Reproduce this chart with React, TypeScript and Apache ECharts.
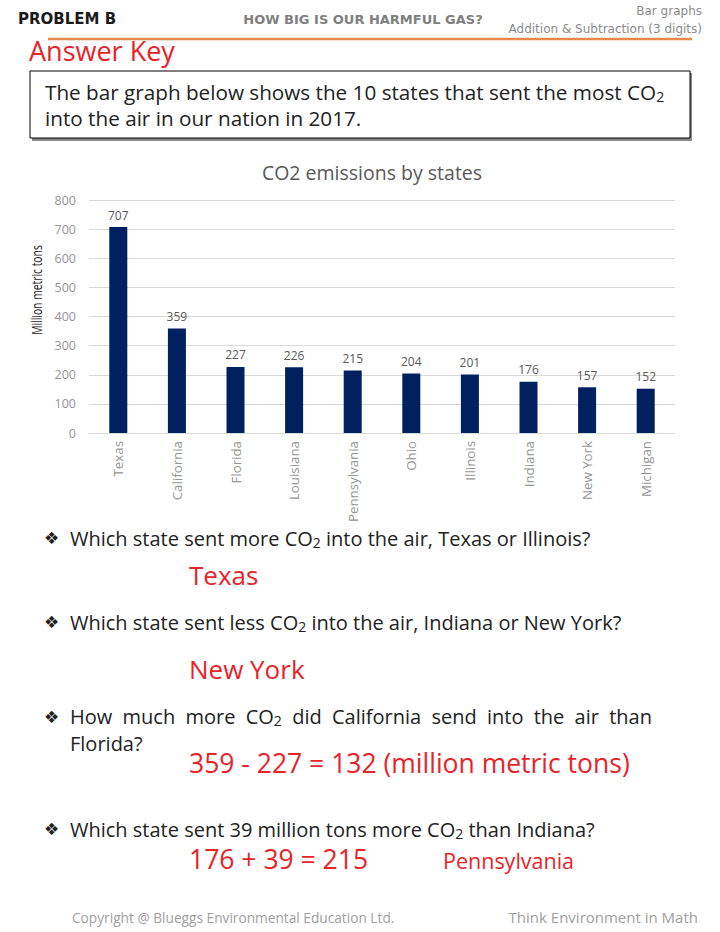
import React, { useEffect, useRef } from "react";
import * as echarts from "echarts";

const states = ["Texas", "California", "Florida", "Louisiana", "Pennsylvania", "Ohio", "Illinois", "Indiana", "New York", "Michigan"];
const emissions = [707, 359, 227, 226, 215, 204, 201, 176, 157, 152];
const yMin = 0;
const yMax = 800;
const yStep = 100;

const FAMILY = "Open Sans";
const FONT = "'Open Sans', Lato, sans-serif";
const RED = "#E8242B";
const DARK = "#222222";

function measure(text: string, size: number, family = FAMILY) {
  const c = document.createElement("canvas").getContext("2d")!;
  c.font = `${size}px '${family}'`;
  return c.measureText(text).width;
}

function txt(x: number, y: number, text: string, size: number, color: string, extra: any = {}) {
  const align = extra.align || "left";
  return {
    type: "text",
    x,
    y,
    rotation: extra.rotation || 0,
    scaleX: extra.scaleX || 1,
    style: {
      text,
      fontSize: size,
      lineHeight: Math.round(size * 1.15),
      fontFamily: extra.fontFamily || FONT,
      fontWeight: extra.fontWeight || "normal",
      fill: color,
      align,
      textAlign: align,
      verticalAlign: "middle",
      textVerticalAlign: "middle",
      ...(extra.rich ? { rich: extra.rich } : {}),
    },
  };
}

function subRich(size: number, color: string) {
  const lh = Math.round(size * 1.15);
  const ss = Math.round(size * 0.68);
  return {
    n: { fontSize: size, fontFamily: FONT, fill: color, color, lineHeight: lh },
    s: { fontSize: ss, fontFamily: FONT, fill: color, color, lineHeight: ss + 1, padding: [lh - ss - 1, 0, 0, 0] },
  };
}

function co2Line(x: number, y: number, before: string, after: string, size: number, color: string) {
  return txt(x, y, `{n|${before}CO}{s|2}{n|${after}}`, size, color, { rich: subRich(size, color) });
}

export default function App() {
  const ref = useRef<HTMLDivElement>(null);
  useEffect(() => {
    if (!ref.current) return;
    const chart = echarts.init(ref.current, null, { renderer: "svg" });

    const qSize = 20;
    const q3y = 716.5;
    const words = ["How", "much", "more", "CO2", "did", "California", "send", "into", "the", "air", "than"];
    const widths = words.map((w) => (w === "CO2" ? measure("CO", qSize) + measure("2", Math.round(qSize * 0.68)) : measure(w, qSize)));
    const total = widths.reduce((a, b) => a + b, 0);
    const lineL = 70;
    const lineR = 652;
    const gap = (lineR - lineL - total) / (words.length - 1);
    let cx = lineL;
    const q3Words: any[] = [];
    words.forEach((w, i) => {
      if (w === "CO2") q3Words.push(co2Line(cx, q3y, "", "", qSize, DARK));
      else q3Words.push(txt(cx, q3y, w, qSize, DARK));
      cx += widths[i] + gap;
    });

    const bullet = (y: number) => txt(44, y, "❖", 17, DARK, { fontFamily: "'DejaVu Sans', sans-serif" });

    chart.setOption({
      animation: false,
      backgroundColor: "#ffffff",
      title: {
        text: "CO2 emissions by states",
        left: 367,
        top: 157,
        textAlign: "center",
        textStyle: { fontFamily: FONT, fontSize: 19.5, fontWeight: "normal", color: "#595959" },
      },
      grid: { left: 89, right: 45, top: 200, bottom: 499, containLabel: false },
      xAxis: {
        type: "category",
        data: states,
        axisLine: { lineStyle: { color: "#d9d9d9" } },
        axisTick: { show: false },
        axisLabel: { rotate: 90, color: "#959595", fontFamily: FONT, fontSize: 13.3, margin: 8, interval: 0 },
      },
      yAxis: {
        type: "value",
        min: yMin,
        max: yMax,
        interval: yStep,
        axisLine: { show: false },
        axisTick: { show: false },
        axisLabel: { color: "#959595", fontFamily: FONT, fontSize: 12.5, margin: 13 },
        splitLine: { lineStyle: { color: "#d9d9d9" } },
      },
      series: [
        {
          type: "bar",
          data: emissions,
          barWidth: 18,
          itemStyle: { color: "#002060" },
          label: { show: true, position: "top", distance: 6, color: "#595959", fontFamily: FONT, fontSize: 12 },
        },
      ],
      graphic: [
        txt(18, 19, "PROBLEM B", 15, "#1a1a1a", { fontFamily: "'DejaVu Sans', sans-serif", fontWeight: "bold" }),
        txt(363, 19, "HOW BIG IS OUR HARMFUL GAS?", 13, "#808080", { align: "center", fontFamily: "'DejaVu Sans', sans-serif", fontWeight: "bold" }),
        txt(702, 11, "Bar graphs", 12, "#8c8c8c", { align: "right", fontFamily: "'DejaVu Sans', sans-serif" }),
        txt(702, 29, "Addition & Subtraction (3 digits)", 12, "#8c8c8c", { align: "right", fontFamily: "'DejaVu Sans', sans-serif" }),
        { type: "line", shape: { x1: 48, y1: 39, x2: 692, y2: 39 }, style: { stroke: "#E8884A", lineWidth: 2.5 } },
        txt(29, 50, "Answer Key", 27, RED),
        { type: "rect", shape: { x: 32, y: 73, width: 660, height: 68 }, style: { fill: "#8a8a8a" } },
        { type: "rect", shape: { x: 30, y: 71, width: 660, height: 67 }, style: { fill: "#ffffff", stroke: "#000000", lineWidth: 1 } },
        co2Line(45, 92, "The bar graph below shows the 10 states that sent the most ", "", 20.7, DARK),
        txt(45, 118, "into the air in our nation in 2017.", 20.7, DARK),

        txt(36, 290, "Million metric tons", 15, DARK, { align: "center", rotation: Math.PI / 2, scaleX: 0.69 }),

        bullet(538),
        co2Line(70, 538, "Which state sent more ", " into the air, Texas or Illinois?", qSize, DARK),
        txt(189, 575, "Texas", 26, RED),

        bullet(622),
        co2Line(70, 622, "Which state sent less ", " into the air, Indiana or New York?", qSize, DARK),
        txt(189, 669, "New York", 26, RED),

        bullet(q3y),
        ...q3Words,
        txt(70, 743.5, "Florida?", qSize, DARK),
        txt(189, 763, "359 - 227 = 132 (million metric tons)", 26.5, RED),

        bullet(829),
        co2Line(70, 829, "Which state sent 39 million tons more ", " than Indiana?", qSize, DARK),
        txt(189, 859, "176 + 39 = 215", 26.5, RED),
        txt(443, 860, "Pennsylvania", 21.5, RED),

        txt(72, 917, "Copyright @ Blueggs Environmental Education Ltd.", 13.7, "#a0a0a0"),
        txt(698, 917, "Think Environment in Math", 15, "#a0a0a0", { align: "right" }),
      ],
    });
    return () => chart.dispose();
  }, []);

  return (
    <div
      ref={ref}
      style={{ position: "absolute", left: 0, top: 0, width: 720, height: 932, background: "#ffffff" }}
    />
  );
}
